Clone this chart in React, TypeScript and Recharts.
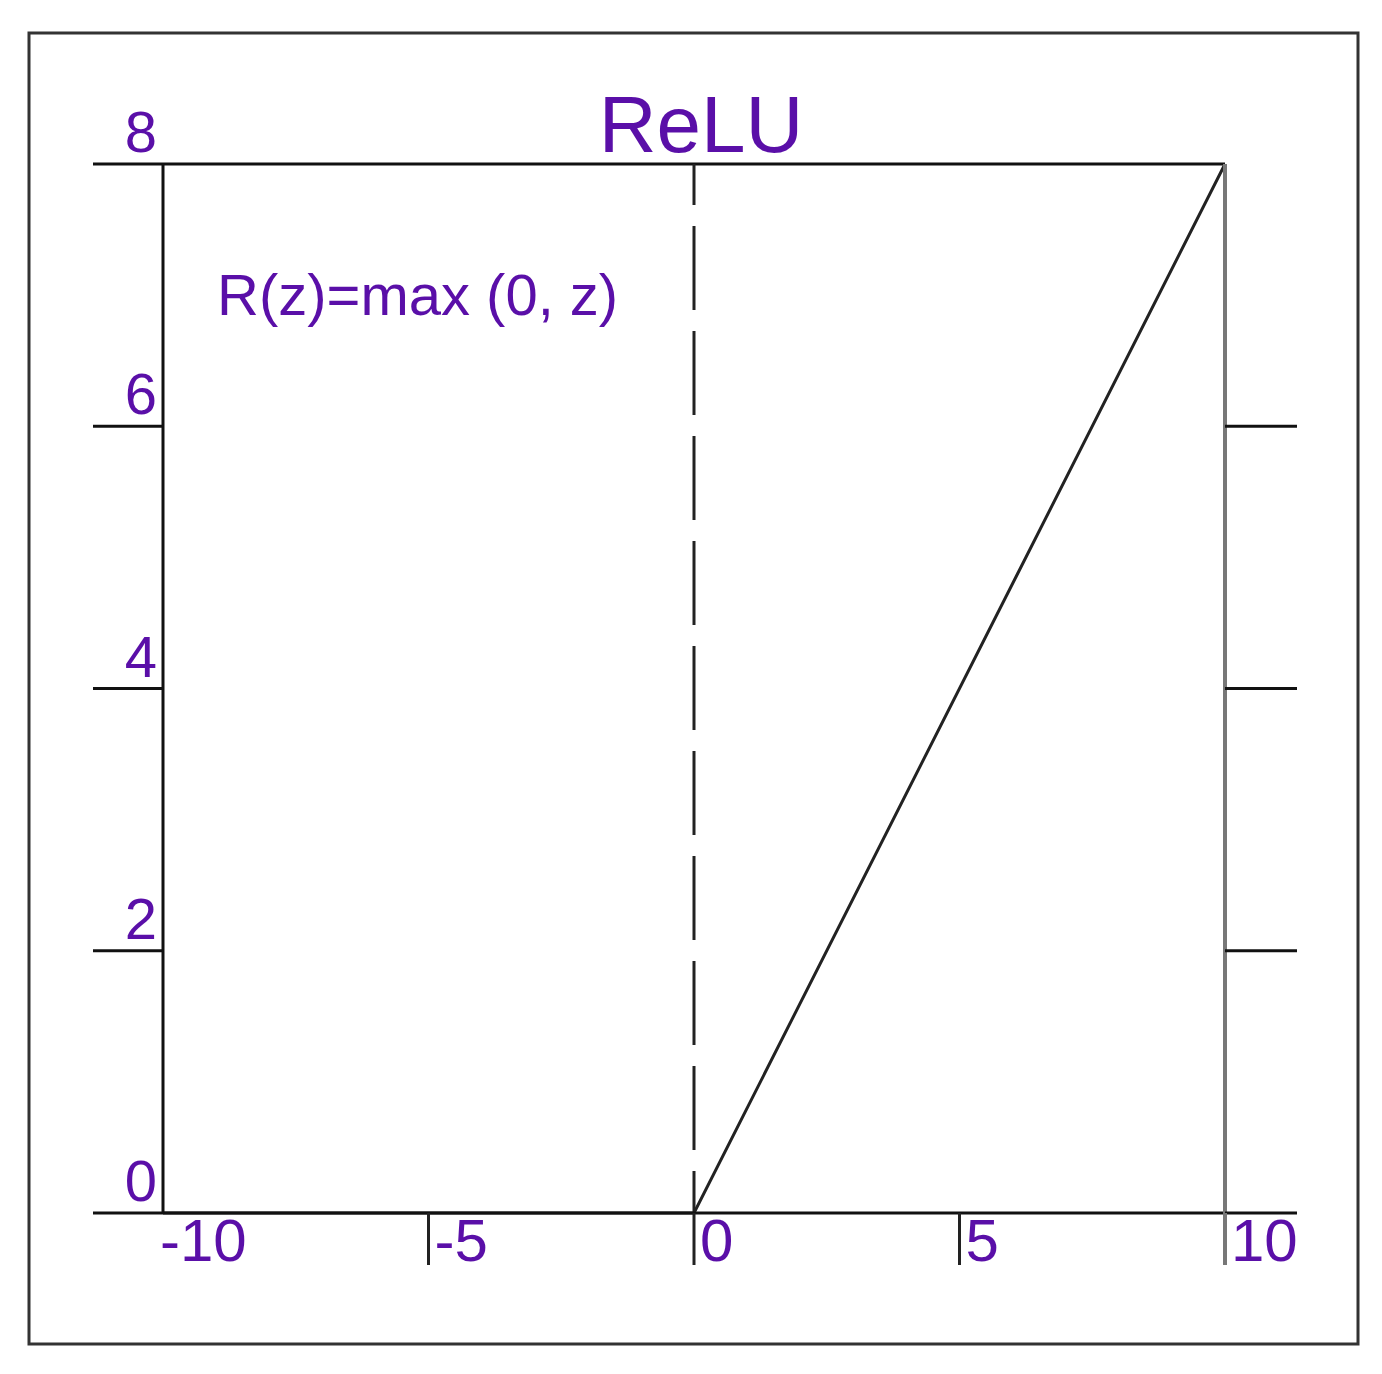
import { Line, LineChart, ReferenceLine, XAxis, YAxis } from 'recharts';

// ReLU: R(z) = max(0, z), shown for z in [-10, 10], clipped at 8
const zValues = [-10, 0, 10];
const rValues = [0, 0, 8];
const xTicks = [-10, -5, 0, 5, 10];
const yTicks = [0, 2, 4, 6, 8];
const rightTicks = [0, 2, 4, 6];

const data = zValues.map((z, i) => ({ z, r: rValues[i] }));

const PURPLE = '#5a0fa8';
const FONT = '"Liberation Sans", Arial, sans-serif';

function LeftTick(props: any) {
  const { x, y, payload } = props;
  return (
    <text x={x + 64} y={y - 12} textAnchor="end" fontSize={58} fill={PURPLE} fontFamily={FONT}>
      {payload.value}
    </text>
  );
}

function BottomTick(props: any) {
  const { x, y, payload } = props;
  const v = payload.value;
  return (
    <g>
      {v !== -10 && (
        <line
          x1={x}
          x2={x}
          y1={y - 52}
          y2={y}
          stroke={v === 10 ? '#777' : '#222'}
          strokeWidth={v === 10 ? 4 : 3}
        />
      )}
      <text x={v === -10 ? x - 3 : x + 6} y={y - 4} textAnchor="start" fontSize={60} fill={PURPLE} fontFamily={FONT}>
        {v}
      </text>
    </g>
  );
}

const EmptyTick = () => <g />;

export default function App() {
  return (
    <div style={{ position: 'absolute', left: 0, top: 0, width: 1382, height: 1374, background: '#fff' }}>
      <LineChart
        width={1382}
        height={1374}
        data={data}
        margin={{ top: 164, left: 93, right: 85, bottom: 109 }}
      >
        <XAxis
          dataKey="z"
          type="number"
          domain={[-10, 10]}
          ticks={xTicks}
          height={52}
          tickSize={52}
          tickMargin={0}
          tickLine={false}
          axisLine={{ stroke: '#111', strokeWidth: 3 }}
          tick={BottomTick}
          interval={0}
        />
        <YAxis
          yAxisId="left"
          type="number"
          domain={[0, 8]}
          ticks={yTicks}
          width={70}
          tickSize={70}
          tickMargin={0}
          tickLine={{ stroke: '#111', strokeWidth: 3 }}
          axisLine={{ stroke: '#111', strokeWidth: 3 }}
          tick={LeftTick}
          interval={0}
        />
        <YAxis
          yAxisId="right"
          orientation="right"
          type="number"
          domain={[0, 8]}
          ticks={rightTicks}
          width={72}
          tickSize={72}
          tickMargin={0}
          tickLine={{ stroke: '#111', strokeWidth: 3 }}
          axisLine={{ stroke: '#777', strokeWidth: 4 }}
          tick={EmptyTick}
          interval={0}
        />
        <ReferenceLine yAxisId="left" y={8} stroke="#111" strokeWidth={3} />
        <ReferenceLine
          yAxisId="left"
          x={0}
          stroke="#222"
          strokeWidth={3}
          strokeDasharray="84 21"
          strokeDashoffset={42}
        />
        {/* same series bound to the right axis so it gets its ticks; drawn invisible */}
        <Line
          yAxisId="right"
          dataKey="r"
          type="linear"
          stroke="none"
          dot={false}
          isAnimationActive={false}
        />
        <Line
          yAxisId="left"
          dataKey="r"
          type="linear"
          stroke="#222"
          strokeWidth={3}
          dot={false}
          isAnimationActive={false}
        />
      </LineChart>
      <svg
        width={1382}
        height={1374}
        style={{ position: 'absolute', left: 0, top: 0, pointerEvents: 'none' }}
      >
        <rect x={29} y={33} width={1329} height={1311} fill="none" stroke="#333" strokeWidth={3} />
        <text x={701} y={152} textAnchor="middle" fontSize={80} fill={PURPLE} fontFamily={FONT}>
          ReLU
        </text>
        <text x={217} y={315} fontSize={58} fill={PURPLE} fontFamily={FONT}>
          R(z)=max (0, z)
        </text>
      </svg>
    </div>
  );
}
